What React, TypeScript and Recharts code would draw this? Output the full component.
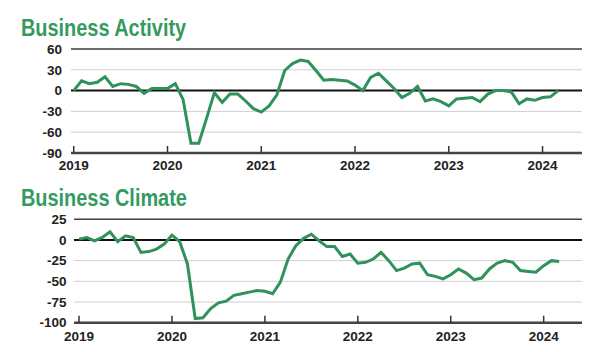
import { CartesianGrid, Line, LineChart, ReferenceLine, XAxis, YAxis } from "recharts";

const YEAR_LABELS = ["2019", "2020", "2021", "2022", "2023", "2024"];
const YEAR_TICKS = [0, 12, 24, 36, 48, 60];

// monthly, Jan 2019 .. Mar 2024
const ACTIVITY = [
  0, 14, 10, 12, 20, 6, 10, 9, 6, -4, 3, 3,
  3, 10, -13, -76, -76, -40, -3, -17, -5, -5, -15, -26,
  -31, -22, -6, 29, 39, 44, 42, 29, 15, 16, 15, 14,
  8, 0, 19, 25, 14, 3, -10, -4, 6, -15, -12, -16,
  -22, -12, -11, -10, -16, -5, 0, 0, -2, -19, -12, -14,
  -10, -9, 0,
];

const CLIMATE = [
  1, 3, -1, 3, 10, -2, 5, 3, -15, -14, -11, -5,
  6, -2, -29, -95, -94, -83, -76, -74, -67, -65, -63, -61,
  -62, -65, -51, -23, -7, 2, 7, -1, -8, -8, -20, -17,
  -28, -27, -23, -15, -25, -37, -34, -29, -28, -42, -44, -47,
  -42, -35, -40, -48, -46, -35, -28, -25, -27, -37, -38, -39,
  -31, -25, -26,
];

const ACTIVITY_TICKS = [-90, -60, -30, 0, 30, 60];
const CLIMATE_TICKS = [-100, -75, -50, -25, 0, 25];

const GREEN = "#2f925b";
const FONT = "'Liberation Sans', Arial, sans-serif";

const activityData = ACTIVITY.map((v, i) => ({ i, v }));
const climateData = CLIMATE.map((v, i) => ({ i, v }));

function YearTick({ x, y, payload, up, gap }: any) {
  const idx = YEAR_TICKS.indexOf(payload.value);
  return (
    <g>
      <line x1={x} x2={x} y1={y} y2={y - up} stroke="#333" strokeWidth={1.5} />
      <text x={x} y={y + gap} textAnchor="middle" fontFamily={FONT} fontWeight="bold" fontSize={13.5} fill="#222">
        {YEAR_LABELS[idx]}
      </text>
    </g>
  );
}

type PanelProps = {
  title: string;
  data: { i: number; v: number }[];
  ticks: number[];
  top: number;
  marginTop: number;
  marginBottom: number;
  axisWidth: number;
  tickMargin: number;
  xDomain: [number, number];
  titleTop: number;
  labelGap: number;
};

function Panel(p: PanelProps) {
  const lo = p.ticks[0];
  const hi = p.ticks[p.ticks.length - 1];
  return (
    <div style={{ position: "absolute", left: 0, top: p.top, width: 600, height: 176 }}>
      <div
        style={{
          position: "absolute",
          left: 21,
          top: p.titleTop,
          fontFamily: FONT,
          fontWeight: "bold",
          fontSize: 23,
          lineHeight: "23px",
          color: "#359a60",
          whiteSpace: "nowrap",
          transform: "scaleX(0.865)",
          transformOrigin: "left top",
        }}
      >
        {p.title}
      </div>
      <LineChart
        width={600}
        height={176}
        data={p.data}
        margin={{ top: p.marginTop, right: 18, bottom: p.marginBottom, left: 0 }}
      >
        <CartesianGrid vertical={false} stroke="#cfcfcf" strokeWidth={1} />
        <XAxis
          type="number"
          dataKey="i"
          domain={p.xDomain}
          ticks={YEAR_TICKS}
          interval={0}
          height={20}
          tickSize={0}
          tickMargin={0}
          tickLine={false}
          axisLine={{ stroke: "#444", strokeWidth: 2.5 }}
          tick={<YearTick up={7} gap={p.labelGap} />}
          allowDataOverflow
        />
        <YAxis
          type="number"
          domain={[lo, hi]}
          ticks={p.ticks}
          interval={0}
          width={p.axisWidth}
          tickSize={0}
          tickMargin={p.tickMargin}
          axisLine={false}
          tickLine={false}
          tick={{ fontFamily: FONT, fontWeight: "bold", fontSize: 13.5, fill: "#222" }}
        />
        <ReferenceLine y={hi} stroke="#444" strokeWidth={1.5} />
        <ReferenceLine y={0} stroke="#111" strokeWidth={2} />
        <Line
          type="linear"
          dataKey="v"
          stroke={GREEN}
          strokeWidth={3}
          dot={false}
          isAnimationActive={false}
        />
      </LineChart>
    </div>
  );
}

export default function App() {
  return (
    <div style={{ position: "relative", width: 600, height: 352, background: "#fff" }}>
      <style>{`body{margin:0}`}</style>
      <Panel
        title="Business Activity"
        data={activityData}
        ticks={ACTIVITY_TICKS}
        top={0}
        marginTop={49}
        marginBottom={3}
        axisWidth={71}
        tickMargin={9}
        xDomain={[-0.35, 65.05]}
        titleTop={16.5}
        labelGap={17}
      />
      <Panel
        title="Business Climate"
        data={climateData}
        ticks={CLIMATE_TICKS}
        top={176}
        marginTop={43.3}
        marginBottom={9.3}
        axisWidth={74}
        tickMargin={7.5}
        xDomain={[-0.65, 64.95]}
        titleTop={11.2}
        labelGap={18}
      />
    </div>
  );
}
